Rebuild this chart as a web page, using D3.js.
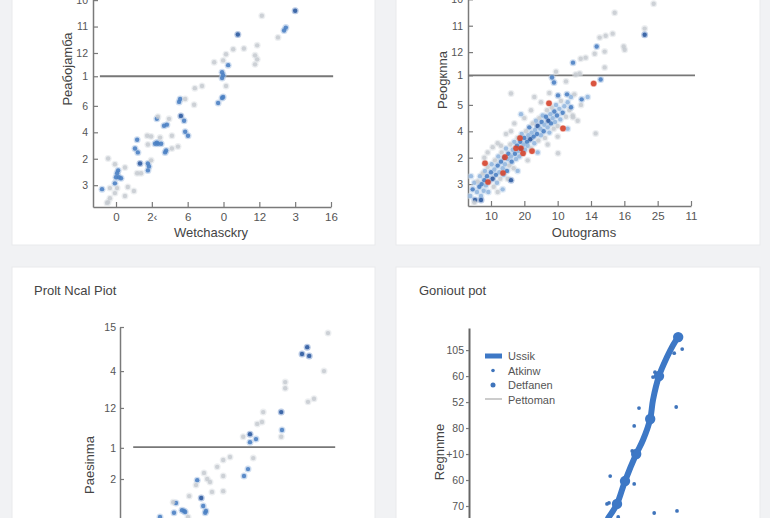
<!DOCTYPE html>
<html><head><meta charset="utf-8">
<script src="https://cdn.jsdelivr.net/npm/d3@7"></script>
<style>
body{margin:0;background:#f1f2f4;}
svg{display:block;font-family:"Liberation Sans",Arial,sans-serif;}
</style>
</head><body>
<svg id="c" width="770" height="518"></svg>
<script>
// ---------- DATA ----------
// Panel 1 (top-left)
const p1XTickLabels = ["0","2‹","6","0","12","3","16"];
const p1YTickValues = [0,1,2,3,4.12,5,6,7];
const p1YTickLabels = ["3","2","4","6","1","12","11","10"];
const p1RefLine = [4.12, -0.45, 6.06]; // y, x-from, x-to
const p1Points = [
[5.00,6.60,"d"],[4.07,6.41,"g"],[4.74,5.96,"b"],[4.69,5.85,"b"],[3.40,5.70,"d"],[4.52,5.59,"g"],
[3.94,5.29,"g"],[3.88,4.91,"g"],[3.94,4.76,"g"],[3.88,4.57,"g"],[3.27,5.14,"g"],[3.57,5.17,"g"],
[3.07,4.95,"g"],[2.99,4.72,"g"],[2.74,4.65,"g"],[3.13,4.54,"b"],[2.96,4.27,"b"],[2.99,4.16,"b"],
[2.96,4.05,"b"],[3.07,3.75,"g"],[2.96,3.30,"b"],[2.99,3.34,"b"],[2.85,3.11,"b"],[2.40,3.75,"g"],
[2.20,3.67,"g"],[2.18,3.04,"g"],[1.79,3.26,"b"],[1.93,3.26,"g"],[1.76,3.15,"b"],[1.81,2.62,"d"],
[1.90,2.44,"b"],[1.93,2.02,"b"],[2.01,1.87,"b"],[1.56,1.87,"g"],[1.73,1.46,"g"],[1.56,1.39,"g"],
[1.14,2.51,"b"],[1.17,2.59,"g"],[1.34,2.25,"b"],[1.42,2.29,"b"],[1.48,2.51,"g"],[0.87,1.87,"g"],
[0.98,1.84,"g"],[1.23,1.80,"g"],[1.09,1.57,"b"],[1.17,1.57,"b"],[1.14,1.61,"b"],[1.26,1.57,"b"],
[0.89,1.54,"g"],[1.37,1.24,"b"],[1.40,1.31,"b"],[0.59,1.72,"b"],[0.53,1.39,"b"],[0.61,1.24,"b"],
[0.67,0.82,"d"],[0.89,0.82,"b"],[0.92,0.71,"b"],[0.89,0.56,"b"],[0.98,0.94,"g"],[0.59,0.45,"g"],
[0.70,0.45,"g"],[0.25,0.67,"g"],[-0.22,1.01,"g"],[-0.03,0.79,"g"],[0.06,0.56,"b"],[0.03,0.45,"b"],
[0.08,0.30,"b"],[0.00,0.30,"b"],[0.14,0.26,"b"],[-0.03,0.07,"b"],[-0.39,-0.15,"b"],[-0.17,-0.11,"g"],
[0.03,-0.11,"g"],[0.33,-0.07,"g"],[0.50,-0.22,"g"],[0.25,-0.41,"g"],[-0.03,-0.30,"g"],[-0.17,-0.49,"g"],
[-0.22,-0.64,"g"],[-0.25,-0.67,"g"]
];

// Panel 2 (top-right)
const p2XTickLabels = ["10","20","10","14","16","25","11"];
const p2YTickValues = [0,1,2,3,4.12,5,6,7];
const p2YTickLabels = ["3","2","4","5","1","12","11","10"];
const p2RefLine = [4.12, -0.69, 6.12];
const p2Points = [
[-0.62,-0.45,"l"],[-0.55,-0.2,"b"],[-0.5,0.05,"l"],[-0.48,-0.6,"d"],[-0.42,-0.3,"l"],[-0.4,0.1,"g"],
[-0.35,-0.1,"b"],[-0.33,0.3,"l"],[-0.3,-0.45,"l"],[-0.28,0.0,"b"],[-0.25,0.4,"g"],[-0.22,-0.25,"l"],
[-0.2,0.15,"b"],[-0.18,0.5,"l"],[-0.15,-0.05,"l"],[-0.12,0.3,"b"],[-0.1,0.65,"g"],[-0.08,-0.3,"l"],
[-0.05,0.1,"l"],[0.0,0.45,"b"],[0.02,0.75,"l"],[0.05,0.2,"d"],[0.08,-0.1,"g"],[0.1,0.55,"l"],
[0.12,0.9,"g"],[0.15,0.35,"b"],[0.18,0.05,"l"],[0.2,0.7,"b"],[0.22,1.05,"l"],[0.25,0.45,"l"],
[0.28,0.2,"g"],[0.3,0.85,"b"],[0.32,1.2,"g"],[0.35,0.6,"l"],[0.38,0.35,"l"],[0.4,1.0,"b"],
[0.42,0.75,"l"],[0.45,1.35,"l"],[0.48,0.5,"b"],[0.5,0.95,"l"],[0.52,1.15,"b"],[0.55,0.7,"g"],
[0.58,1.5,"g"],[0.6,1.05,"l"],[0.62,0.85,"b"],[0.65,1.3,"l"],[0.68,0.6,"g"],[0.7,1.6,"l"],
[0.72,1.15,"b"],[0.75,0.95,"l"],[0.78,1.45,"b"],[0.8,1.75,"g"],[0.82,1.25,"l"],[0.85,1.05,"l"],
[0.88,1.6,"b"],[0.9,1.35,"d"],[0.92,1.9,"l"],[0.95,1.15,"g"],[0.98,1.5,"l"],[1.0,1.75,"b"],
[1.02,1.3,"l"],[1.05,2.0,"g"],[1.08,1.6,"b"],[1.1,1.45,"l"],[1.12,1.85,"l"],[1.15,2.15,"b"],
[1.18,1.7,"d"],[1.2,1.35,"g"],[1.22,1.95,"l"],[1.25,2.3,"g"],[1.28,1.8,"b"],[1.3,1.55,"l"],
[1.32,2.05,"l"],[1.35,2.4,"l"],[1.38,1.9,"b"],[1.4,2.2,"d"],[1.42,1.65,"g"],[1.45,2.5,"g"],
[1.48,2.1,"l"],[1.5,1.85,"l"],[1.52,2.35,"b"],[1.55,2.6,"l"],[1.58,2.0,"b"],[1.6,2.25,"l"],
[1.62,1.75,"g"],[1.65,2.55,"b"],[1.68,2.8,"g"],[1.7,2.15,"l"],[1.72,2.4,"d"],[1.75,1.95,"l"],
[1.78,2.65,"l"],[1.8,2.3,"b"],[1.82,2.9,"g"],[1.85,2.5,"l"],[1.88,2.1,"g"],[1.9,2.75,"b"],
[1.92,2.35,"l"],[1.95,3.0,"l"],[1.98,2.6,"b"],[2.0,2.2,"g"],[2.05,2.85,"l"],[2.08,2.45,"l"],
[2.1,3.15,"g"],[2.15,2.7,"b"],[2.2,2.95,"l"],[2.25,2.55,"g"],[2.3,3.1,"l"],[2.35,2.8,"g"],
[2.4,3.3,"l"],[2.5,3.4,"g"],[2.45,2.6,"g"],[0.6,2.0,"g"],[0.3,1.45,"g"],[1.0,2.5,"g"],[-0.2,1.0,"g"],
[-0.1,1.2,"g"],[0.2,1.55,"g"],[0.45,1.9,"g"],[0.7,2.3,"g"],[0.9,2.65,"l"],[1.2,2.8,"g"],
[1.5,3.1,"g"],[1.3,3.3,"g"],[0.5,0.2,"g"],[0.8,0.5,"l"],[1.1,0.9,"g"],[1.4,1.2,"l"],
[1.7,1.5,"g"],[2.0,1.8,"g"],[2.3,2.1,"l"],[2.6,2.4,"g"],[0.2,-0.3,"g"],[-0.5,-0.7,"g"],
[2.7,3.0,"g"],[2.9,3.3,"l"],[0.05,1.4,"g"],[1.75,3.45,"g"],[-0.6,0.3,"l"],[0.35,-0.2,"l"],
[4.88,6.83,"g"],[3.71,6.49,"g"],[4.61,5.89,"g"],[4.61,5.66,"d"],[3.65,5.70,"g"],[3.44,5.62,"g"],
[3.26,5.55,"g"],[3.17,5.21,"b"],[3.41,5.02,"g"],[3.98,5.21,"g"],[4.01,5.09,"g"],[3.11,4.94,"g"],
[2.84,4.79,"g"],[2.69,4.75,"g"],[2.46,4.60,"b"],[3.41,4.42,"g"],[1.95,4.26,"g"],[2.66,4.19,"g"],
[2.54,4.15,"g"],[1.83,4.04,"b"],[2.25,3.89,"g"],[3.29,3.96,"b"],[1.89,3.85,"b"],[0.60,3.43,"g"],
[2.01,3.36,"b"],[2.28,3.40,"b"],[2.72,3.21,"b"],[2.40,2.91,"b"],[2.46,2.53,"g"],[3.14,1.92,"g"],
[2.01,1.17,"g"],[0.60,0.15,"d"],[-0.30,-0.60,"d"],
[3.08,3.81,"r"],[1.74,3.06,"r"],[2.16,2.11,"r"],[0.87,1.74,"r"],[0.75,1.36,"r"],[0.90,1.36,"r"],
[0.96,1.17,"r"],[1.23,1.25,"r"],[0.42,1.02,"r"],[-0.18,0.79,"r"],[-0.09,0.08,"r"],[0.36,0.42,"r"]
];

// Panel 3 (bottom-left)
const p3YTickValues = [0,0.82,1.87,2.84,4];
const p3YTickLabels = ["2","1","12","4","15"];
const p3RefLine = [0.84, 0.33, 5.38];
const p3Points = [
[5.20,3.84,"g"],[4.68,3.47,"d"],[4.55,3.29,"d"],[4.73,3.24,"d"],[5.10,2.84,"g"],[4.13,2.55,"g"],
[4.13,2.39,"g"],[4.85,2.11,"g"],[4.70,2.03,"g"],[3.58,1.76,"g"],[4.03,1.76,"d"],[3.55,1.50,"g"],
[3.43,1.45,"g"],[4.05,1.29,"b"],[4.03,1.11,"g"],[3.25,1.18,"d"],[3.40,1.05,"b"],[3.25,0.97,"b"],
[3.08,1.11,"g"],[2.75,0.58,"g"],[2.58,0.50,"g"],[3.33,0.55,"g"],[3.20,0.26,"b"],[3.10,0.08,"b"],
[2.43,0.32,"g"],[2.10,0.16,"g"],[2.58,0.08,"g"],[1.93,-0.03,"b"],[1.90,-0.16,"g"],[2.18,0.00,"g"],
[2.25,-0.08,"g"],[2.30,-0.34,"g"],[2.58,-0.32,"g"],[1.73,-0.45,"g"],[2.03,-0.50,"d"],[1.40,-0.63,"b"],
[1.33,-0.61,"g"],[1.55,-0.82,"b"],[1.60,-0.84,"b"],[1.63,-0.87,"b"],[2.08,-0.71,"b"],[2.15,-0.84,"b"],
[2.13,-0.89,"b"],[1.35,-0.89,"b"],[1.00,-1.00,"b"],[1.70,-1.00,"g"]
];

// Panel 4 (bottom-right)
const p4YTickLabels = ["70","60","+10","80","52","60","105"];
const p4Curve = [[3.48,-0.46],[3.70,0.08],[3.90,0.96],[4.18,2.00],[4.35,2.54],[4.53,3.35],
                 [4.60,4.08],[4.75,5.00],[4.95,5.73],[5.10,6.19],[5.23,6.50]];
const p4Markers = [[5.23,6.50],[4.75,5.00],[4.53,3.35],[4.18,2.00],[3.90,0.96],[3.70,0.08]];
const p4Dots = [[5.33,6.04],[5.13,5.88],[5.05,6.1],[4.65,5.15],[4.60,4.96],[4.25,3.77],[5.18,3.81],
                [4.13,3.08],[4.08,2.12],[3.53,1.15],[4.13,0.85],[3.45,0.08],[3.50,0.12],
                [4.63,-0.27],[5.20,-0.19],[3.73,-0.42]];
const p4Legend = ["Ussik","Atkinw","Detfanen","Pettoman"];

const titles = ["Prolt Ncal Piot","Goniout pot"];
const axisTitles = {p1x:"Wetchasckry",p1y:"Peaбojamба",p2x:"Outograms",p2y:"Peogкnna",p3y:"Paesinma",p4y:"Regnnme"};

// ---------- DRAW ----------
const svg = d3.select("#c");
svg.append("rect").attr("width",770).attr("height",518).attr("fill","#f1f2f4");
const cards = [[12,-10,363,255],[396,-10,364,255],[12,267,363,262],[396,267,364,262]];
svg.selectAll("rect.card").data(cards).join("rect").attr("class","card")
  .attr("x",d=>d[0]).attr("y",d=>d[1]).attr("width",d=>d[2]).attr("height",d=>d[3])
  .attr("fill","#ffffff").attr("stroke","#e9eaec").attr("stroke-width",1);

const fill = {d:"#2c5a9f", b:"#4a80c3", l:"#93b6de", g:"#c4c9d0", r:"#d5432c"};
const halo = {d:"#7f9fcf", b:"#a9c3e4", l:"#c9daef", g:"#dfe2e6", r:"#eea397"};

function styleAxis(g, fs){
  g.select(".domain").attr("stroke","#7a7a7a").attr("stroke-width",1.5);
  g.selectAll(".tick line").attr("stroke","#7a7a7a").attr("stroke-width",1.2);
  g.selectAll(".tick text").attr("fill","#555").attr("font-size",fs).attr("font-family","Liberation Sans, Arial, sans-serif");
}
function dots(g, pts, x, y, r){
  g.selectAll("circle.h").data(pts).join("circle").attr("class","h")
    .attr("cx",d=>x(d[0])).attr("cy",d=>y(d[1])).attr("r",r+1.3)
    .attr("fill",d=>halo[d[2]]).attr("opacity",0.55);
  g.selectAll("circle.p").data(pts).join("circle").attr("class","p")
    .attr("cx",d=>x(d[0])).attr("cy",d=>y(d[1])).attr("r",d=>d[2]==="r"?r+0.6:r)
    .attr("fill",d=>fill[d[2]]).attr("opacity",d=>d[2]==="g"?0.8:0.88);
}
function ylabel(text, x, y){
  svg.append("text").attr("transform",`translate(${x},${y}) rotate(-90)`)
    .attr("text-anchor","middle").attr("font-size",13).attr("fill","#444").text(text);
}

// Panel 1
{
  const x = d3.scaleLinear().domain([-0.642,6]).range([93,331]);
  const y = d3.scaleLinear().domain([-0.825,7.08]).range([207,-2]);
  const g = svg.append("g");
  const ya = g.append("g").attr("transform","translate(93,0)")
    .call(d3.axisLeft(y).tickValues(p1YTickValues).tickFormat((d,i)=>p1YTickLabels[i]).tickSizeInner(-5).tickSizeOuter(0).tickPadding(5));
  styleAxis(ya,10.5);
  const xa = g.append("g").attr("transform","translate(0,207)")
    .call(d3.axisBottom(x).tickValues(d3.range(7)).tickFormat((d,i)=>p1XTickLabels[i]).tickSizeInner(-5).tickSizeOuter(0).tickPadding(6));
  styleAxis(xa,11.5);
  g.append("line").attr("x1",x(p1RefLine[1])).attr("x2",x(p1RefLine[2])).attr("y1",y(p1RefLine[0])).attr("y2",y(p1RefLine[0]))
    .attr("stroke","#777").attr("stroke-width",1.8);
  dots(g.append("g"), p1Points, x, y, 2.2);
  svg.append("text").attr("x",211).attr("y",237).attr("text-anchor","middle").attr("font-size",13).attr("fill","#444").text(axisTitles.p1x);
  ylabel(axisTitles.p1y, 72, 69);
}
// Panel 2
{
  const x = d3.scaleLinear().domain([-0.69,6]).range([468,691]);
  const y = d3.scaleLinear().domain([-0.83,7.05]).range([206,-2]);
  const g = svg.append("g");
  const ya = g.append("g").attr("transform","translate(468,0)")
    .call(d3.axisLeft(y).tickValues(p2YTickValues).tickFormat((d,i)=>p2YTickLabels[i]).tickSizeInner(-5).tickSizeOuter(0).tickPadding(5));
  styleAxis(ya,10.5);
  const xa = g.append("g").attr("transform","translate(0,206)")
    .call(d3.axisBottom(x).tickValues(d3.range(7)).tickFormat((d,i)=>p2XTickLabels[i]).tickSizeInner(-5).tickSizeOuter(0).tickPadding(6));
  styleAxis(xa,11.5);
  g.append("line").attr("x1",x(p2RefLine[1])).attr("x2",x(p2RefLine[2])).attr("y1",y(p2RefLine[0])).attr("y2",y(p2RefLine[0]))
    .attr("stroke","#777").attr("stroke-width",1.8);
  dots(g.append("g"), p2Points, x, y, 2.2);
  svg.append("text").attr("x",584).attr("y",237).attr("text-anchor","middle").attr("font-size",13).attr("fill","#444").text(axisTitles.p2x);
  ylabel(axisTitles.p2y, 447, 80);
}
// Panel 3
{
  const x = d3.scaleLinear().domain([0,5.5]).range([120,340]);
  const y = d3.scaleLinear().domain([-1.2,4]).range([524.6,327]);
  svg.append("text").attr("x",34).attr("y",295).attr("font-size",13).attr("fill","#444").text(titles[0]);
  const g = svg.append("g");
  const ya = g.append("g").attr("transform","translate(120,0)")
    .call(d3.axisLeft(y).tickValues(p3YTickValues).tickFormat((d,i)=>p3YTickLabels[i]).tickSizeInner(-4).tickSizeOuter(0).tickPadding(4));
  styleAxis(ya,10.5);
  g.append("line").attr("x1",x(p3RefLine[1])).attr("x2",x(p3RefLine[2])).attr("y1",y(p3RefLine[0])).attr("y2",y(p3RefLine[0]))
    .attr("stroke","#777").attr("stroke-width",1.8);
  dots(g.append("g"), p3Points, x, y, 2.2);
  ylabel(axisTitles.p3y, 94, 465);
}
// Panel 4
{
  const x = d3.scaleLinear().domain([0,5.5]).range([469,689]);
  const y = d3.scaleLinear().domain([-0.5,6.85]).range([519,328]);
  svg.append("text").attr("x",419).attr("y",295).attr("font-size",13).attr("fill","#444").text(titles[1]);
  const g = svg.append("g");
  const ya = g.append("g").attr("transform","translate(469,0)")
    .call(d3.axisLeft(y).tickValues(d3.range(7)).tickFormat((d,i)=>p4YTickLabels[i]).tickSizeInner(3).tickSizeOuter(0).tickPadding(2));
  styleAxis(ya,10.5);
  ya.select(".domain").attr("stroke","#666").attr("stroke-width",2);
  g.append("path").datum(p4Curve)
    .attr("d", d3.line().x(d=>x(d[0])).y(d=>y(d[1])).curve(d3.curveCatmullRom))
    .attr("fill","none").attr("stroke","#3d78c6").attr("stroke-width",6).attr("stroke-linecap","round");
  g.selectAll("circle.m").data(p4Markers).join("circle").attr("class","m")
    .attr("cx",d=>x(d[0])).attr("cy",d=>y(d[1])).attr("r",5.2).attr("fill","#3d78c6");
  g.selectAll("circle.s").data(p4Dots).join("circle").attr("class","s")
    .attr("cx",d=>x(d[0])).attr("cy",d=>y(d[1])).attr("r",1.9).attr("fill","#3f74bb");
  ylabel(axisTitles.p4y, 444, 452);
  // legend
  const lg = svg.append("g").attr("transform","translate(485,356)");
  lg.append("line").attr("x1",0).attr("x2",17).attr("y1",0).attr("y2",0).attr("stroke","#3d78c6").attr("stroke-width",5);
  lg.append("circle").attr("cx",8).attr("cy",14.5).attr("r",1.8).attr("fill","#3f74bb");
  lg.append("circle").attr("cx",8).attr("cy",29).attr("r",2.5).attr("fill","#3f74bb");
  lg.append("line").attr("x1",0).attr("x2",17).attr("y1",43).attr("y2",43).attr("stroke","#999").attr("stroke-width",1);
  lg.selectAll("text").data(p4Legend).join("text")
    .attr("x",23).attr("y",(d,i)=>i*14.5+4).attr("font-size",11).attr("fill","#555").text(d=>d);
}
</script>
</body></html>
